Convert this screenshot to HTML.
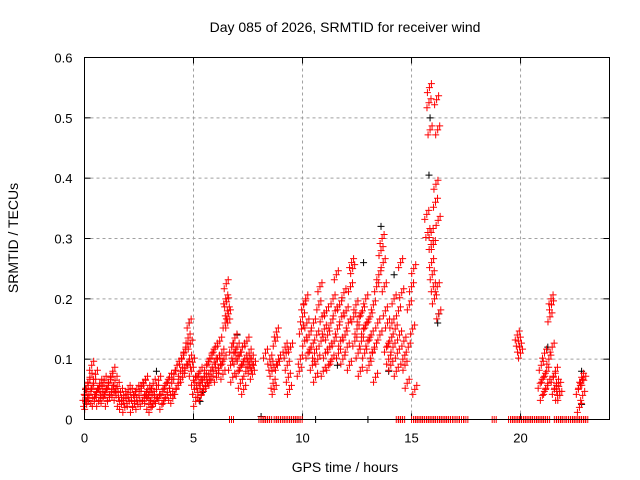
<!DOCTYPE html>
<html><head><meta charset="utf-8"><style>
html,body{margin:0;padding:0;background:#fff}
svg{display:block;font-family:"Liberation Sans",sans-serif}
</style></head><body>
<svg id="chart" width="640" height="480" viewBox="0 0 640 480">
<text x="345" y="32" font-size="14" text-anchor="middle" fill="#000">Day 085 of 2026, SRMTID for receiver wind</text>
<text x="0" y="0" font-size="14" text-anchor="middle" transform="translate(18,238) rotate(-90)">SRMTID / TECUs</text>
<text x="345" y="472" font-size="14" text-anchor="middle">GPS time / hours</text>
<g id="grid"></g>
<g id="ticks"></g>
<g id="black"></g>
<g id="red"></g>
<rect x="84.5" y="57.5" width="525" height="362" fill="none" stroke="#000" stroke-width="1"/>
</svg>
<script>
const xTicks=[0,5,10,15,20];
const yTicks=[0,0.1,0.2,0.3,0.4,0.5,0.6];
const yTickLabels=["0","0.1","0.2","0.3","0.4","0.5","0.6"];
const redT=[0.02,0.05,0.08,0.1,0.15,0.2,0.25,0.3,0.33,0.38,0.42,0.45,0.5,0.55,0.6,0.65,0.7,0.75,0.8,0.85,0.9,0.95,1.0,1.05,1.1,1.15,1.2,1.25,1.3,1.35,1.4,1.45,1.5,1.6,1.65,1.7,1.8,1.85,1.9,2.0,2.05,2.1,2.2,2.25,2.3,2.4,2.45,2.5,2.6,2.65,2.7,2.75,2.8,2.85,2.9,2.95,3.0,3.05,3.1,3.15,3.2,3.3,3.35,3.4,3.5,3.55,3.6,3.7,3.75,3.8,3.9,3.95,4.0,4.05,4.1,4.2,4.25,4.3,4.4,4.45,4.5,4.55,4.6,4.65,4.7,4.75,4.8,4.82,4.85,4.9,4.95,5.0,5.05,5.1,5.15,5.2,5.25,5.3,5.35,5.4,5.45,5.5,5.55,5.6,5.65,5.7,5.75,5.8,5.85,5.9,5.95,6.0,6.05,6.1,6.15,6.2,6.25,6.3,6.35,6.4,6.45,6.48,6.5,6.52,6.55,6.57,6.6,6.7,6.75,6.8,6.85,6.9,6.95,7.0,7.05,7.1,7.15,7.2,7.25,7.3,7.35,7.4,7.45,7.5,7.55,7.6,7.65,7.7,7.75,8.3,8.5,8.55,8.65,8.7,8.75,8.8,8.85,8.6,8.9,9.2,9.25,9.3,9.35,9.4,9.45,9.85,9.9,9.95,10.0,10.05,10.1,10.15,10.2,10.25,10.3,10.4,10.45,10.5,10.55,10.6,10.65,10.7,10.75,10.8,10.85,10.9,10.95,11.0,11.05,11.1,11.15,11.2,11.25,11.3,11.35,11.4,11.45,11.5,11.55,11.6,11.65,11.7,11.75,11.8,11.85,11.9,11.95,12.0,12.05,12.1,12.15,12.2,12.25,12.3,12.35,12.4,12.45,12.5,12.55,12.6,12.65,12.7,12.75,12.8,12.85,12.9,12.95,13.0,13.05,13.1,13.15,13.2,13.25,13.3,13.35,13.4,13.45,13.5,13.55,13.6,13.65,13.7,13.75,13.8,13.85,13.9,13.95,14.0,14.05,14.1,14.15,14.2,14.25,14.3,14.35,14.4,14.45,14.5,14.55,14.6,14.65,14.7,14.8,14.85,14.9,15.0,15.05,15.1,15.15,15.7,15.75,15.8,15.82,15.85,15.9,15.92,15.95,16.0,16.05,16.1,16.12,16.15,16.2,16.22,16.18,16.25,16.0,15.9,19.85,19.9,19.95,20.0,20.9,20.95,21.0,21.05,21.1,21.15,21.2,21.25,21.3,21.35,21.4,21.42,21.45,21.5,21.55,21.6,21.65,21.7,21.75,21.8,22.65,22.7,22.75,22.8,22.85,22.9];
const redV=[0.04,0.03,0.05,0.025,0.06,0.04,0.07,0.05,0.09,0.035,0.06,0.03,0.075,0.045,0.05,0.03,0.06,0.04,0.055,0.035,0.065,0.045,0.05,0.03,0.06,0.04,0.07,0.05,0.08,0.045,0.065,0.04,0.055,0.03,0.045,0.025,0.04,0.02,0.035,0.05,0.03,0.045,0.02,0.04,0.03,0.05,0.025,0.04,0.055,0.03,0.06,0.04,0.065,0.035,0.05,0.025,0.045,0.02,0.04,0.06,0.03,0.05,0.035,0.065,0.04,0.025,0.05,0.035,0.06,0.045,0.07,0.04,0.06,0.035,0.075,0.05,0.09,0.06,0.08,0.1,0.07,0.11,0.085,0.12,0.09,0.135,0.16,0.1,0.125,0.08,0.095,0.065,0.05,0.03,0.07,0.045,0.06,0.08,0.04,0.065,0.05,0.07,0.055,0.09,0.06,0.075,0.1,0.065,0.11,0.08,0.095,0.12,0.07,0.1,0.085,0.13,0.09,0.11,0.075,0.1,0.16,0.2,0.225,0.195,0.18,0.16,0.175,0.09,0.12,0.07,0.11,0.135,0.1,0.12,0.08,0.105,0.06,0.09,0.12,0.05,0.1,0.08,0.13,0.095,0.11,0.085,0.1,0.075,0.09,0.11,0.1,0.09,0.06,0.05,0.13,0.145,0.09,0.08,0.1,0.12,0.11,0.09,0.07,0.05,0.12,0.08,0.1,0.15,0.17,0.19,0.13,0.2,0.16,0.11,0.14,0.12,0.09,0.16,0.11,0.07,0.14,0.1,0.19,0.22,0.13,0.17,0.08,0.15,0.11,0.18,0.14,0.09,0.12,0.16,0.1,0.2,0.13,0.18,0.24,0.15,0.11,0.19,0.13,0.17,0.1,0.21,0.14,0.18,0.12,0.16,0.09,0.22,0.26,0.25,0.17,0.13,0.19,0.15,0.11,0.17,0.08,0.13,0.18,0.15,0.11,0.2,0.16,0.13,0.09,0.17,0.14,0.11,0.19,0.12,0.07,0.22,0.16,0.24,0.14,0.28,0.3,0.26,0.22,0.18,0.12,0.16,0.1,0.13,0.09,0.16,0.12,0.2,0.15,0.08,0.11,0.18,0.14,0.26,0.21,0.1,0.13,0.09,0.06,0.12,0.19,0.22,0.15,0.25,0.05,0.34,0.31,0.525,0.55,0.48,0.29,0.26,0.24,0.29,0.2,0.36,0.39,0.53,0.48,0.33,0.22,0.175,0.22,0.31,0.14,0.13,0.12,0.11,0.06,0.09,0.04,0.07,0.11,0.05,0.08,0.06,0.1,0.17,0.2,0.19,0.12,0.07,0.05,0.08,0.06,0.04,0.055,0.04,0.05,0.02,0.06,0.07,0.04,0.065];
const zeroT=[6.65,8.0,8.1,8.2,8.3,8.4,8.7,8.8,9.0,9.1,9.3,9.4,9.5,9.6,9.7,9.8,14.3,14.4,14.5,15.0,15.1,15.2,15.3,15.4,15.5,15.6,15.7,15.8,15.9,16.0,16.1,16.2,16.3,16.4,16.5,16.6,16.7,16.9,17.0,17.2,17.4,18.7,19.45,19.55,19.65,19.75,19.85,19.95,20.05,20.15,20.25,20.35,20.45,20.55,20.65,20.75,20.85,20.95,21.05,21.15,21.55,21.65,21.75,21.85,22.1,22.2,22.3,22.4,22.5,22.6,22.7,22.8,22.9];
const blackT=[0.05,0.1,4.8,5.3,5.4,8.1,10.6,12.8,13.0,13.6,13.95,15.8,15.85,16.2,16.25,21.25,22.8,22.8,3.3,7.0,11.6,14.2];
const blackV=[0.05,0.03,0.16,0.03,0.045,0.005,0.0,0.26,0.0,0.32,0.08,0.405,0.5,0.16,0.175,0.12,0.08,0.025,0.08,0.14,0.09,0.24];

const NS="http://www.w3.org/2000/svg";
const X0=84.5,X1=609.5,Y0=419.5,Y1=57.5,XMAX=24.08,YMAX=0.6;
function xs(t){return X0+(X1-X0)*t/XMAX;}
function ys(v){return Y0-(Y0-Y1)*v/YMAX;}
const grid=document.getElementById('grid'),ticks=document.getElementById('ticks');
function mk(tag,attrs,parent){const e=document.createElementNS(NS,tag);for(const k in attrs)e.setAttribute(k,attrs[k]);parent.appendChild(e);return e;}
xTicks.forEach(function(t){
  const x=xs(t);
  if(t>0){const g=mk('line',{x1:x,x2:x,y1:Y0,y2:Y1,stroke:'#a0a0a0','stroke-dasharray':'3,3'},grid);
  
  }
  mk('line',{x1:x,x2:x,y1:Y0,y2:Y0-6,stroke:'#000'},ticks);
  mk('line',{x1:x,x2:x,y1:Y1,y2:Y1+6,stroke:'#000'},ticks);
  const l=mk('text',{x:x,y:Y0+23,'font-size':13,'text-anchor':'middle'},ticks);l.textContent=String(t);
  
  
});
yTicks.forEach(function(v,i){
  const y=ys(v);
  if(v>0&&v<YMAX){const g=mk('line',{x1:X0,x2:X1,y1:y,y2:y,stroke:'#a0a0a0','stroke-dasharray':'3,3'},grid);
  
  }
  mk('line',{x1:X0,x2:X0+6,y1:y,y2:y,stroke:'#000'},ticks);
  mk('line',{x1:X1,x2:X1-6,y1:y,y2:y,stroke:'#000'},ticks);
  const l=mk('text',{x:X0-12,y:y+5,'font-size':13,'text-anchor':'end'},ticks);l.textContent=yTickLabels[i];
  
  
});
// marker style: each sample drawn as a small cluster of crosses (pixel offsets) to mimic overplotting
const CLUSTER=[[0,0],[2,-4],[-2,5]];
function cross(parent,t,v,color,cl){
  const x0=xs(t),y0=ys(v);
  let d='';
  cl.forEach(function(o){const x=x0+o[0],y=y0+o[1];d+='M'+(x-3.5)+' '+y+'H'+(x+3.5)+'M'+x+' '+(y-3.5)+'V'+(y+3.5);});
  const p=mk('path',{d:d,stroke:color,'stroke-width':1,fill:'none'},parent);
  
  
}
const bg=document.getElementById('black'),rg=document.getElementById('red');
blackT.forEach(function(t,i){cross(bg,t,blackV[i],'#000',[[0,0]]);});
redT.forEach(function(t,i){cross(rg,t,redV[i],'#ff0000',CLUSTER);});
zeroT.forEach(function(t){cross(rg,t,0,'#ff0000',[[0,0],[2,0],[4,0]]);});
</script>
</body></html>
